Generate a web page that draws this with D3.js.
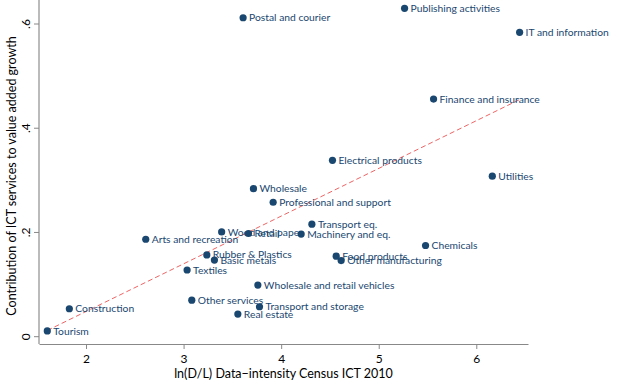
<!DOCTYPE html>
<html><head><meta charset="utf-8">
<script src="https://cdn.jsdelivr.net/npm/d3@7"></script>
<style>body{margin:0;background:#fff}svg{display:block}</style>
</head><body>
<script>
const sectors = ["Postal and courier","Publishing activities","IT and information","Finance and insurance","Electrical products","Utilities","Wholesale","Professional and support","Transport eq.","Machinery and eq.","Wood and paper","Retail","Arts and recreation","Rubber & Plastics","Basic metals","Textiles","Chemicals","Food products","Other manufacturing","Wholesale and retail vehicles","Other services","Transport and storage","Real estate","Construction","Tourism"];
const dataIntensity = [3.61,5.265,6.444,5.562,4.526,6.164,3.716,3.918,4.315,4.205,3.39,3.665,2.612,3.238,3.316,3.036,5.48,4.564,4.615,3.761,3.084,3.778,3.556,1.829,1.603];
const ictContribution = [0.612,0.630,0.584,0.456,0.3385,0.308,0.284,0.258,0.216,0.197,0.201,0.198,0.187,0.157,0.147,0.128,0.175,0.1546,0.146,0.099,0.070,0.0575,0.0435,0.0536,0.011];
const fitX = [1.603, 6.444];
const fitY = [0.012, 0.455];
const xTicks = [2,3,4,5,6];
const yTicks = [0,0.2,0.4,0.6];
const yTickLabels = ["0",".2",".4",".6"];

const W=626,H=385;
const svg=d3.select("body").append("svg").attr("width",W).attr("height",H);
const x=d3.scaleLinear().domain([1.518,6.53]).range([39,528]);
const y=d3.scaleLinear().domain([0,0.6]).range([336.7,24]);
const font="Lato, 'Open Sans', sans-serif";

// axes
const xAxis=svg.append("g").attr("transform","translate(0,344)")
  .call(d3.axisBottom(x).tickValues(xTicks).tickSize(5).tickSizeOuter(0).tickFormat(d3.format("d")));
xAxis.select(".domain").attr("stroke","#888").attr("stroke-width",1);
xAxis.selectAll(".tick line").attr("stroke","#888");
xAxis.selectAll("text").attr("font-family",font).attr("font-size",12).attr("fill","#000").attr("dy","0.9em");

const yAxis=svg.append("g").attr("transform","translate(39,0)");
yAxis.append("line").attr("x1",0).attr("x2",0).attr("y1",0).attr("y2",344).attr("stroke","#bbb").attr("stroke-width",2);
yTicks.forEach((t,i)=>{
  yAxis.append("line").attr("x1",-5).attr("x2",0).attr("y1",y(t)).attr("y2",y(t)).attr("stroke","#888");
  yAxis.append("text").attr("transform",`translate(-9,${y(t)}) rotate(-90)`)
    .attr("text-anchor","middle").attr("font-family",font).attr("font-size",12).attr("fill","#000")
    .text(yTickLabels[i]);
});

// titles
svg.append("text").attr("x",(39+528)/2).attr("y",378).attr("text-anchor","middle")
  .attr("font-family",font).attr("font-size",12.5).attr("fill","#000").text("ln(D/L) Data\u2212intensity Census ICT 2010");
svg.append("text").attr("transform","translate(16,176) rotate(-90)").attr("text-anchor","middle")
  .attr("font-family",font).attr("font-size",12.5).attr("fill","#000").text("Contribution of ICT services to value added growth");

// fit line
svg.append("line").attr("x1",x(fitX[0])).attr("y1",y(fitY[0])).attr("x2",x(fitX[1])).attr("y2",y(fitY[1]))
  .attr("stroke","#f06464").attr("stroke-width",1).attr("stroke-dasharray","5,3");

// points
const g=svg.append("g");
sectors.forEach((s,i)=>{
  const cx=x(dataIntensity[i]), cy=y(ictContribution[i]);
  g.append("circle").attr("cx",cx).attr("cy",cy).attr("r",3.6).attr("fill","#1a476f");
  g.append("text").attr("x",cx+6).attr("y",cy).attr("dy","0.35em")
    .attr("font-family",font).attr("font-size",10.3).attr("fill","#1a476f").text(s);
});
</script>
</body></html>
